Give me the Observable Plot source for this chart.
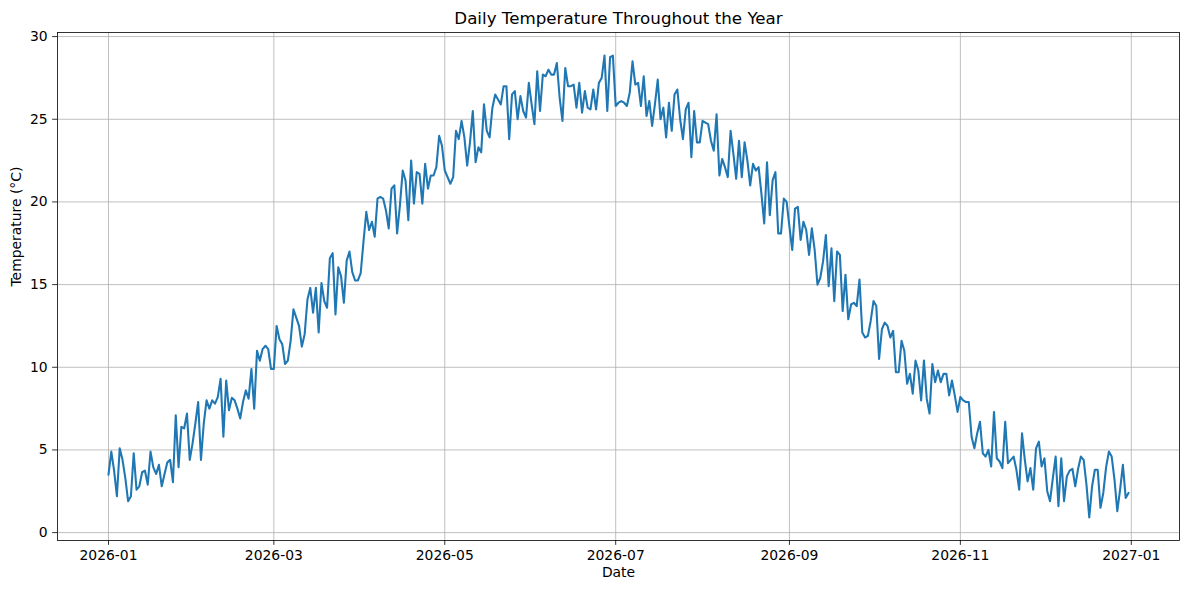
<!DOCTYPE html>
<html>
<head>
<meta charset="utf-8">
<script src="https://cdn.jsdelivr.net/npm/d3@7"></script>
<script src="https://cdn.jsdelivr.net/npm/@observablehq/plot@0.6"></script>
<style>
  html, body { margin: 0; padding: 0; background: #ffffff; }
  #chart { width: 1189px; height: 590px; }
</style>
</head>
<body>
<div id="chart"></div>
<script>
// ---- Data (daily mean temperature, °C), one array per month of 2026 ----
const startDate = "2026-01-01";
const jan = [3.5, 4.9, 3.75, 2.2, 5.1, 4.4, 3.3, 1.9, 2.2, 4.8, 2.6, 2.8, 3.65, 3.75, 2.9, 4.9, 3.95, 3.55, 4.1, 2.8, 3.55, 4.25, 4.4, 3.05, 7.1, 3.95, 6.4, 6.3, 7.2, 4.4, 5.4];
const feb = [6.6, 7.9, 4.4, 6.6, 8.0, 7.5, 8.0, 7.8, 8.2, 9.3, 5.8, 9.2, 7.4, 8.15, 8.0, 7.5, 6.9, 7.9, 8.6, 8.1, 9.9, 7.5, 11.0, 10.4, 11.1, 11.3, 11.1, 9.9];
const mar = [9.9, 12.5, 11.7, 11.4, 10.2, 10.4, 11.6, 13.5, 13.0, 12.5, 11.25, 12.0, 14.1, 14.8, 13.3, 14.8, 12.1, 15.1, 14.0, 13.6, 16.6, 16.9, 13.2, 16.05, 15.5, 13.9, 16.45, 17.0, 15.75, 15.25, 15.25];
const apr = [15.7, 17.6, 19.4, 18.3, 18.8, 17.9, 20.2, 20.3, 20.2, 19.5, 18.4, 20.8, 21.0, 18.1, 19.8, 21.9, 21.3, 18.9, 22.5, 19.9, 21.8, 21.7, 19.9, 22.3, 20.8, 21.6, 21.6, 22.1, 24.0, 23.4];
const may = [21.9, 21.5, 21.1, 21.5, 24.3, 23.8, 24.9, 23.9, 22.2, 23.6, 25.5, 22.4, 23.3, 23.0, 25.9, 24.3, 23.9, 25.7, 26.5, 26.2, 25.9, 27.0, 27.0, 23.8, 26.5, 26.7, 25.0, 26.4, 25.5, 25.1, 27.2];
const jun = [25.9, 24.7, 27.9, 25.5, 27.7, 27.6, 28.0, 27.7, 27.7, 28.4, 26.3, 24.9, 28.1, 27.0, 27.0, 27.1, 25.7, 27.2, 25.4, 26.7, 25.7, 25.6, 26.8, 25.6, 27.2, 27.5, 28.85, 25.5, 28.75, 28.85];
const jul = [25.8, 26.0, 26.1, 26.0, 25.8, 26.6, 28.5, 27.1, 27.2, 25.8, 27.6, 25.2, 26.1, 24.6, 25.9, 27.4, 25.0, 25.7, 23.9, 26.0, 24.3, 26.5, 26.8, 25.0, 23.8, 25.6, 26.0, 22.7, 25.5, 23.6, 23.6];
const aug = [24.9, 24.8, 24.7, 23.7, 23.1, 25.3, 21.6, 22.6, 22.1, 21.5, 24.3, 22.9, 21.4, 23.7, 21.5, 23.6, 22.5, 21.0, 22.3, 21.9, 22.1, 20.5, 18.7, 22.4, 19.2, 21.3, 21.8, 18.1, 18.1, 20.2, 20.0];
const sep = [18.5, 17.1, 19.6, 19.7, 17.7, 18.8, 18.3, 16.8, 18.4, 17.1, 15.0, 15.4, 16.4, 18.0, 14.9, 17.2, 14.0, 17.0, 16.8, 13.4, 15.6, 12.9, 13.8, 13.9, 13.7, 15.3, 12.1, 11.8, 11.9, 12.8];
const oct = [14.0, 13.7, 10.5, 12.3, 12.7, 12.5, 11.8, 12.2, 9.7, 9.7, 11.6, 11.0, 9.0, 9.6, 8.4, 10.4, 9.8, 8.0, 10.4, 8.1, 7.2, 10.2, 9.1, 9.8, 9.1, 9.6, 9.6, 8.3, 9.2, 8.3, 7.3];
const nov = [8.2, 8.0, 7.9, 7.9, 5.8, 5.1, 6.0, 6.7, 4.8, 4.6, 5.0, 4.0, 7.3, 4.5, 4.3, 3.9, 6.7, 4.2, 4.4, 4.6, 3.8, 2.6, 6.0, 4.4, 3.1, 3.9, 2.6, 5.1, 5.5, 4.0];
const dec = [4.5, 2.5, 1.9, 3.3, 4.6, 1.6, 4.5, 1.9, 3.4, 3.75, 3.85, 2.8, 3.85, 4.6, 4.4, 2.9, 0.92, 2.8, 3.8, 3.8, 1.5, 2.4, 3.95, 4.9, 4.6, 3.2, 1.3, 2.6, 4.1, 2.1, 2.4];

const xTickLabels = ["2026-01", "2026-03", "2026-05", "2026-07", "2026-09", "2026-11", "2027-01"];
const yTicks = [0, 5, 10, 15, 20, 25, 30];

const titleText = "Daily Temperature Throughout the Year";
const xLabel = "Date";
const yLabel = "Temperature (°C)";

// ---- Build table ----
const temps = [].concat(jan, feb, mar, apr, may, jun, jul, aug, sep, oct, nov, dec);
const t0 = new Date(startDate + "T00:00:00Z");
const data = temps.map((v, i) => ({date: d3.utcDay.offset(t0, i), temp: v}));

const parseMonth = d3.utcParse("%Y-%m");
const xTicks = xTickLabels.map(parseMonth);
const fmt = d3.utcFormat("%Y-%m");

// matplotlib-like 5% margins
const [dMin, dMax] = d3.extent(data, d => d.date);
const dPad = (dMax - dMin) * 0.05;
const [vMin, vMax] = d3.extent(temps);
const vPad = (vMax - vMin) * 0.05;

const FONT = "DejaVu Sans, Liberation Sans, sans-serif";

const chart = Plot.plot({
  width: 1189,
  height: 590,
  marginTop: 32,
  marginRight: 10,
  marginBottom: 50,
  marginLeft: 57,
  style: {fontFamily: FONT, fontSize: "13.9px", background: "#ffffff", color: "#000000"},
  x: {type: "utc", domain: [new Date(+dMin - dPad), new Date(+dMax + dPad)]},
  y: {domain: [vMin - vPad, vMax + vPad]},
  marks: [
    Plot.gridX(xTicks, {stroke: "#b0b0b0", strokeOpacity: 1, strokeWidth: 0.8}),
    Plot.gridY(yTicks, {stroke: "#b0b0b0", strokeOpacity: 1, strokeWidth: 0.8}),
    Plot.lineY(data, {x: "date", y: "temp", stroke: "#1f77b4", strokeWidth: 2.08, strokeLinejoin: "round"}),
    Plot.frame({stroke: "#000000", strokeWidth: 0.8}),
    Plot.axisX(xTicks, {tickFormat: fmt, tickSize: 4.9, tickPadding: 4.9, label: null, fontSize: 13.9, strokeWidth: 0.8}),
    Plot.axisY(yTicks, {tickSize: 4.9, tickPadding: 4.9, label: null, fontSize: 13.9, strokeWidth: 0.8}),
    Plot.text([titleText], {frameAnchor: "top", dy: -14, fontSize: 16.7, lineAnchor: "middle", fill: "#000000"}),
    Plot.text([xLabel], {frameAnchor: "bottom", dy: 32, fontSize: 13.9, lineAnchor: "middle", fill: "#000000"}),
    Plot.text([yLabel], {frameAnchor: "left", dx: -41, rotate: -90, fontSize: 13.9, lineAnchor: "middle", fill: "#000000"})
  ]
});

document.getElementById("chart").appendChild(chart);
</script>
</body>
</html>
